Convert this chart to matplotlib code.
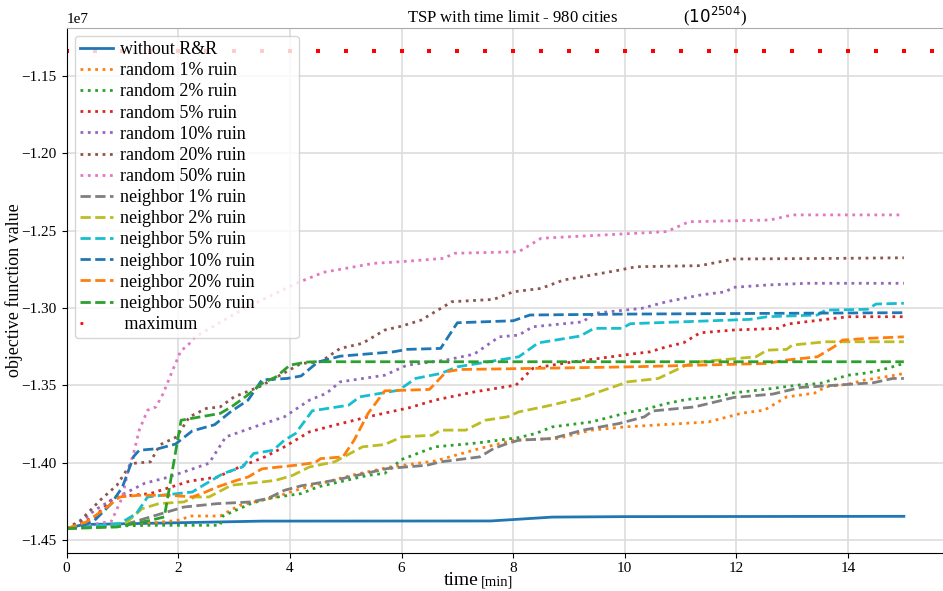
import matplotlib
matplotlib.use("Agg")
import matplotlib.pyplot as plt
import numpy as np
from matplotlib.lines import Line2D

plt.rcParams['font.family'] = 'serif'
plt.rcParams['font.serif'] = ['Liberation Serif', 'DejaVu Serif']
plt.rcParams['axes.unicode_minus'] = True

# objective values in units of 1e7, time in minutes
t_none = [0, 0.3, 1.5, 3.5, 7.6, 8.7, 10.0, 15.0]
v_none = [-1.4426, -1.4400, -1.4392, -1.4378, -1.4377, -1.4352, -1.4349, -1.4347]

t_r1 = [0, 1.0, 1.7, 2.05, 2.2, 2.75, 3.1, 3.75, 4.1, 5.1, 5.8, 6.6, 7.4, 8.0, 8.8, 9.4, 10.0,
        11.5, 12.1, 12.5, 12.9, 13.4, 13.6, 14.0, 14.3, 14.75, 15.0]
v_r1 = [-1.4426, -1.4405, -1.4384, -1.4370, -1.4345, -1.4345, -1.4276, -1.4222, -1.4179, -1.4082,
        -1.4028, -1.3989, -1.3909, -1.3855, -1.3844, -1.3790, -1.3769, -1.3737, -1.3680, -1.3661,
        -1.3575, -1.3551, -1.3510, -1.3493, -1.3466, -1.3441, -1.3424]

t_r2 = [0, 0.5, 1.5, 2.75, 2.8, 3.3, 3.6, 4.2, 4.5, 5.4, 5.7, 6.0, 6.6, 7.35, 8.1, 8.4, 8.7, 9.4,
        10.1, 10.3, 10.75, 11.1, 11.65, 11.95, 12.5, 13.1, 13.5, 14.0, 14.35, 14.7, 15.0]
v_r2 = [-1.4426, -1.4412, -1.4405, -1.4405, -1.4345, -1.4265, -1.4232, -1.4200, -1.4157, -1.4082,
        -1.4069, -1.3980, -1.3898, -1.3873, -1.3838, -1.3812, -1.3769, -1.3737, -1.3672, -1.3661,
        -1.3618, -1.3592, -1.3575, -1.3549, -1.3527, -1.3499, -1.3488, -1.3435, -1.3420, -1.3391,
        -1.3359]

t_r5 = [0, 0.5, 0.85, 1.5, 2.2, 2.7, 3.1, 3.55, 3.9, 4.35, 4.8, 5.4, 6.15, 6.6, 7.3, 8.05, 8.35,
        8.95, 10.1, 10.45, 10.75, 11.05, 11.35, 11.95, 12.75, 12.9, 13.4, 14.0, 15.0]
v_r5 = [-1.4426, -1.4351, -1.4222, -1.4200, -1.4120, -1.4093, -1.4028, -1.3963, -1.3898, -1.3801,
        -1.3758, -1.3704, -1.3644, -1.3596, -1.3543, -1.3499, -1.3391, -1.3355, -1.3299, -1.3284,
        -1.3251, -1.3226, -1.3161, -1.3143, -1.3132, -1.3105, -1.3083, -1.3057, -1.3057]

t_r10 = [0, 0.25, 0.5, 0.8, 1.4, 1.75, 2.1, 2.55, 2.85, 3.45, 3.9, 4.35, 4.65, 4.9, 5.7, 6.1, 6.8,
         7.3, 7.75, 8.1, 8.35, 9.25, 9.45, 10.3, 10.75, 11.35, 11.8, 11.95, 12.55, 13.25, 15.0]
v_r10 = [-1.4426, -1.4384, -1.4308, -1.4243, -1.4133, -1.4101, -1.4060, -1.4004, -1.3834, -1.3758,
         -1.3704, -1.3596, -1.3553, -1.3478, -1.3435, -1.3370, -1.3337, -1.3299, -1.3187, -1.3176,
         -1.3122, -1.3090, -1.3035, -1.3003, -1.2960, -1.2917, -1.2896, -1.2867, -1.2852, -1.2841,
         -1.2841]

t_r20 = [0, 0.25, 0.6, 0.9, 1.15, 1.5, 1.67, 1.97, 2.2, 2.5, 2.75, 3.0, 3.45, 3.8, 4.2, 4.55, 4.9,
         5.3, 5.7, 6.0, 6.35, 6.75, 6.9, 7.65, 8.0, 8.5, 8.9, 9.4, 9.9, 10.2, 11.35, 11.95, 13.75, 15.0]
v_r20 = [-1.4426, -1.4373, -1.4243, -1.4146, -1.4006, -1.3995, -1.3885, -1.3834, -1.3704, -1.3650,
         -1.3640, -1.3575, -1.3510, -1.3440, -1.3359, -1.3348, -1.3262, -1.3229, -1.3143, -1.3118,
         -1.3079, -1.2993, -1.2960, -1.2945, -1.2896, -1.2874, -1.2820, -1.2788, -1.2756, -1.2734,
         -1.2727, -1.2684, -1.2680, -1.2676]

t_r50 = [0, 0.8, 1.0, 1.1, 1.2, 1.3, 1.45, 1.6, 1.73, 1.85, 1.95, 2.05, 2.15, 2.3, 3.2, 4.15, 4.6,
         5.5, 6.0, 6.75, 6.95, 8.1, 8.5, 10.75, 11.15, 12.6, 13.0, 15.0]
v_r50 = [-1.4426, -1.4380, -1.4222, -1.4049, -1.3939, -1.3790, -1.3661, -1.3640, -1.3553, -1.3446,
         -1.3359, -1.3273, -1.3251, -1.3187, -1.3000, -1.2836, -1.2770, -1.2712, -1.2701, -1.2680,
         -1.2647, -1.2637, -1.2550, -1.2507, -1.2443, -1.2432, -1.2399, -1.2399]

t_n1 = [0, 1.0, 1.5, 2.1, 2.7, 3.3, 3.6, 3.9, 4.2, 4.8, 5.2, 5.75, 6.45, 6.7, 7.4, 7.65, 7.9, 8.1,
        8.7, 9.25, 9.9, 10.35, 10.5, 11.25, 11.95, 12.65, 13.15, 14.45, 14.8, 15.0]
v_n1 = [-1.4426, -1.4405, -1.4351, -1.4287, -1.4265, -1.4254, -1.4232, -1.4179, -1.4150, -1.4114,
        -1.4082, -1.4038, -1.4017, -1.3995, -1.3963, -1.3909, -1.3876, -1.3855, -1.3844, -1.3790,
        -1.3747, -1.3704, -1.3666, -1.3640, -1.3579, -1.3557, -1.3514, -1.3484, -1.3456, -1.3456]

t_n2 = [0, 1.05, 1.35, 1.65, 2.1, 2.3, 2.55, 2.95, 3.5, 3.75, 4.05, 4.35, 4.8, 5.3, 5.7, 6.0, 6.55,
        6.7, 7.15, 7.5, 7.9, 8.1, 8.6, 9.2, 9.45, 9.8, 10.05, 10.6, 11.1, 11.35, 12.35, 12.55, 12.9,
        13.0, 13.4, 13.6, 15.0]
v_n2 = [-1.4426, -1.4394, -1.4298, -1.4265, -1.4254, -1.4222, -1.4222, -1.4146, -1.4125, -1.4114,
        -1.4082, -1.4028, -1.3995, -1.3898, -1.3883, -1.3834, -1.3823, -1.3790, -1.3790, -1.3726,
        -1.3704, -1.3672, -1.3635, -1.3585, -1.3553, -1.3510, -1.3478, -1.3456, -1.3370, -1.3348,
        -1.3316, -1.3273, -1.3268, -1.3240, -1.3226, -1.3219, -1.3219]

t_n5 = [0, 0.95, 1.25, 1.45, 1.7, 2.25, 2.45, 2.8, 3.15, 3.35, 3.7, 3.9, 4.1, 4.4, 5.05, 5.25, 5.95,
        6.25, 6.7, 7.0, 8.1, 8.45, 9.2, 9.45, 9.95, 10.1, 12.25, 12.55, 13.45, 13.6, 14.35, 14.5, 15.0]
v_n5 = [-1.4426, -1.4394, -1.4329, -1.4222, -1.4211, -1.4190, -1.4146, -1.4071, -1.4028, -1.3941,
        -1.3920, -1.3855, -1.3812, -1.3665, -1.3629, -1.3575, -1.3532, -1.3456, -1.3424, -1.3381,
        -1.3316, -1.3226, -1.3182, -1.3132, -1.3132, -1.3102, -1.3074, -1.3057, -1.3046, -1.3014,
        -1.3009, -1.2975, -1.2970]

t_n10 = [0, 0.3, 0.5, 0.8, 1.0, 1.2, 1.3, 1.65, 1.95, 2.25, 2.65, 2.95, 3.25, 3.5, 3.95, 4.2, 4.5,
         4.9, 5.85, 6.1, 6.7, 7.0, 8.0, 8.3, 10.0, 15.0]
v_n10 = [-1.4426, -1.4405, -1.4373, -1.4265, -1.4157, -1.3960, -1.3920, -1.3909, -1.3880, -1.3795,
         -1.3755, -1.3668, -1.3596, -1.3465, -1.3456, -1.3440, -1.3350, -1.3312, -1.3284, -1.3268,
         -1.3262, -1.3096, -1.3083, -1.3046, -1.3040, -1.3031]

t_n20 = [0, 0.35, 0.65, 0.95, 1.3, 1.85, 2.25, 2.45, 2.7, 3.05, 3.25, 3.5, 4.1, 4.45, 4.55, 4.95,
         5.15, 5.4, 5.7, 6.5, 6.8, 7.05, 8.35, 10.1, 12.55, 12.9, 13.45, 13.75, 13.9, 14.35, 15.0]
v_n20 = [-1.4426, -1.4384, -1.4308, -1.4222, -1.4211, -1.4211, -1.4222, -1.4196, -1.4157, -1.4114,
         -1.4093, -1.4040, -1.4017, -1.4000, -1.3974, -1.3963, -1.3855, -1.3682, -1.3536, -1.3527,
         -1.3413, -1.3398, -1.3391, -1.3381, -1.3359, -1.3337, -1.3316, -1.3251, -1.3208, -1.3197,
         -1.3187]

t_n50 = [0, 0.9, 1.5, 1.75, 2.05, 2.4, 2.75, 2.95, 3.2, 3.5, 3.75, 4.0, 4.3, 4.45, 15.0]
v_n50 = [-1.4426, -1.4416, -1.4373, -1.4351, -1.3726, -1.3704, -1.3682, -1.3640, -1.3575, -1.3488,
         -1.3446, -1.3370, -1.3350, -1.3348, -1.3348]

t_max = np.arange(0, 16, 0.5)
v_max = -1.1340

series = [
    ("without R&R", t_none, v_none, "-"),
    ("random 1% ruin", t_r1, v_r1, ":"),
    ("random 2% ruin", t_r2, v_r2, ":"),
    ("random 5% ruin", t_r5, v_r5, ":"),
    ("random 10% ruin", t_r10, v_r10, ":"),
    ("random 20% ruin", t_r20, v_r20, ":"),
    ("random 50% ruin", t_r50, v_r50, ":"),
    ("neighbor 1% ruin", t_n1, v_n1, "--"),
    ("neighbor 2% ruin", t_n2, v_n2, "--"),
    ("neighbor 5% ruin", t_n5, v_n5, "--"),
    ("neighbor 10% ruin", t_n10, v_n10, "--"),
    ("neighbor 20% ruin", t_n20, v_n20, "--"),
    ("neighbor 50% ruin", t_n50, v_n50, "--"),
]

fig = plt.figure(figsize=(9.43, 5.91), dpi=100)
ax = fig.add_axes([0.0707, 0.0651, 0.931, 0.8883])

handles = []
for label, t, v, ls in series:
    ln, = ax.plot(t, np.array(v) * 1e7, ls, lw=2, label=label)
    handles.append(ln)

ax.plot(t_max, np.full(len(t_max), v_max * 1e7), 's', color='red', ms=2.3, mew=0, ls='None')
proxy = Line2D([0], [0], color='red', lw=2, ls=(0, (1, 30)))
handles.append(proxy)

ax.set_xlim(0, 15.73)
ax.set_ylim(-1.4581e7, -1.1188e7)
ax.grid(True, color='#dddddd', lw=1.2)
ax.set_axisbelow(True)
ax.spines['right'].set_visible(False)
ax.spines['top'].set_color('#aaaaaa')
ax.tick_params(labelsize=11)
ax.yaxis.get_offset_text().set_fontsize(11)

ax.set_ylabel("objective function value", fontsize=13, labelpad=-1)
ax.set_xlabel("time", fontsize=14, x=0.449, labelpad=-2)
ax.annotate("[min]", xy=(1, 0), xycoords=ax.xaxis.label, xytext=(2, 1),
            textcoords='offset points', ha='left', va='bottom', fontsize=10.5)

ax.set_title("TSP with time limit - 980 cities" + " " * 16 + "($10^{2504}$)",
             fontsize=12, x=0.581, pad=4)

labels = [s[0] for s in series] + [" maximum"]
ax.legend(handles, labels, loc='upper left', bbox_to_anchor=(0, 0, 0.274, 1),
          mode='expand', fontsize=13, handlelength=1.8, handletextpad=0.4,
          borderpad=0.3, borderaxespad=0.45, labelspacing=0.23)

fig.savefig("out.png", dpi=100)
